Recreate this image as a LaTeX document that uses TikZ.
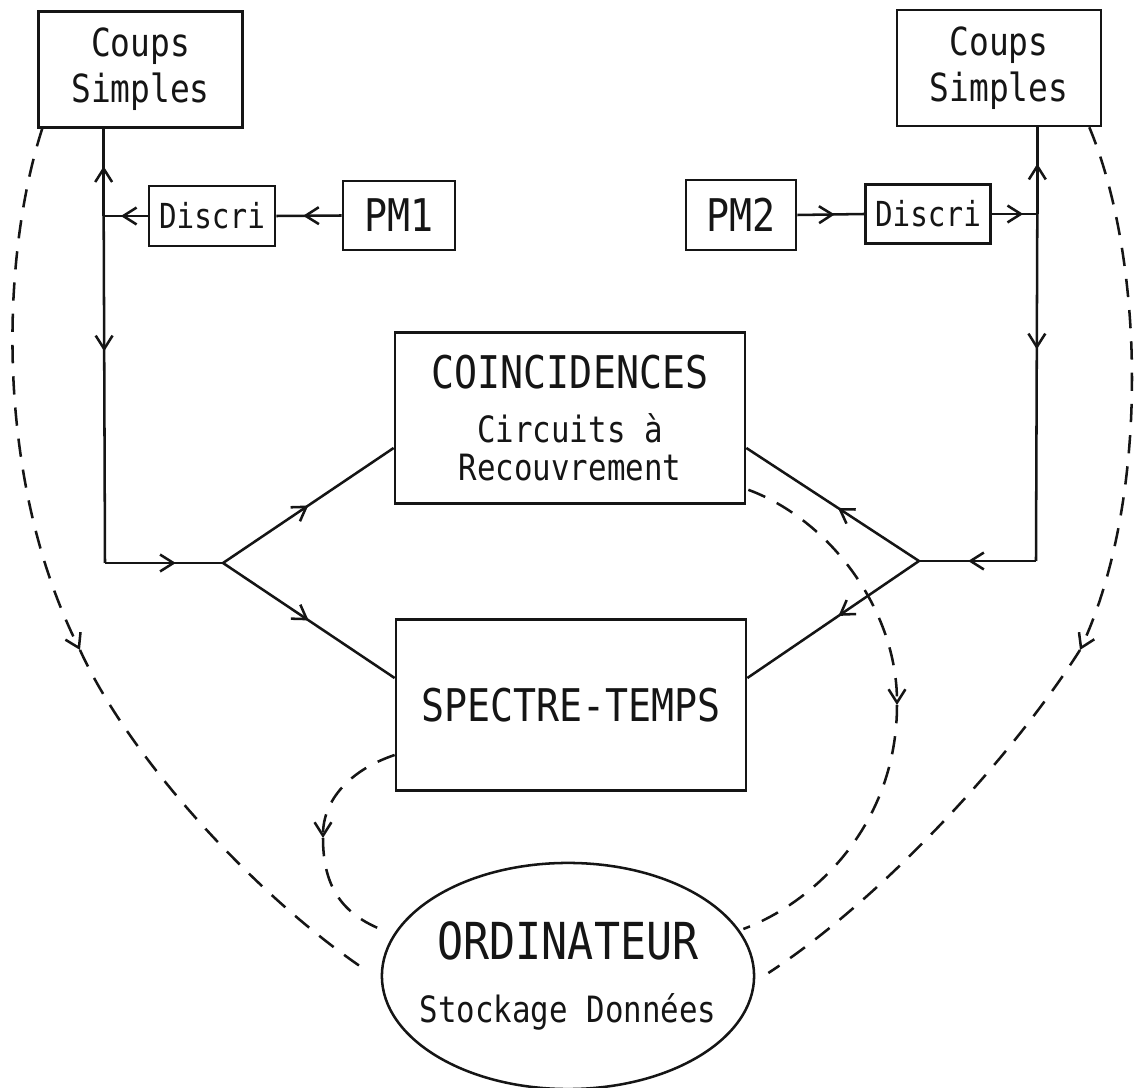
\documentclass[tikz,border=0pt]{standalone}
\usepackage{fontspec}
\usepackage{tikz}
\usetikzlibrary{shapes.geometric, arrows.meta, calc, decorations.markings}
\newfontfamily\traceur[FakeStretch=0.85]{DejaVu Sans Mono}
\definecolor{encre}{HTML}{151515}
\newcommand\fcoups{\traceur\fontsize{11}{13.1}\selectfont}
\newcommand\fdiscri{\traceur\fontsize{9.8}{11}\selectfont}
\newcommand\fpm{\traceur\fontsize{12.8}{15}\selectfont}
\newcommand\fgrand{\traceur\fontsize{12.8}{15}\selectfont}
\newcommand\fpetit{\traceur\fontsize{10.3}{10.9}\selectfont}
\newcommand\fordi{\traceur\fontsize{14.5}{16}\selectfont}

\begin{document}
\begin{tikzpicture}[x=0.01cm, y=-0.01cm, line width=0.72pt, encre,
        bloc/.style={draw, rectangle, inner sep=0pt, align=center},
        fleche/.style={postaction={decorate}, decoration={markings,
            mark=at position #1 with {\arrow{Straight Barb[length=3.8pt,width=4.8pt]}}}},
        pointe/.style={-{Straight Barb[length=3.8pt,width=4.8pt]}},
        tiret/.style={dash pattern=on 5.2pt off 3.7pt}]
        \useasboundingbox (0,0) rectangle (1135,1088);
        \node[bloc, minimum width=2.04cm, minimum height=1.16cm, font=\fcoups] (cs1) at (140.5,69.5) {Coups\\Simples};
        \node[bloc, minimum width=2.04cm, minimum height=1.16cm, font=\fcoups] (cs2) at (999,68) {Coups\\Simples};
        \node[bloc, minimum width=1.26cm, minimum height=0.60cm, font=\fdiscri] (d1) at (212,216) {Discri};
        \node[bloc, minimum width=1.12cm, minimum height=0.69cm, font=\fpm] (pm1) at (399,215.5) {PM1};
        \node[bloc, minimum width=1.10cm, minimum height=0.70cm, font=\fpm] (pm2) at (741,215) {PM2};
        \node[bloc, minimum width=1.25cm, minimum height=0.59cm, font=\fdiscri] (d2) at (928,214) {Discri};
        \node[bloc, minimum width=3.50cm, minimum height=1.71cm, font=\fpetit] (co) at (570,418) {{\fgrand COINCIDENCES}\\[4.5pt]Circuits à\\Recouvrement};
        \node[bloc, minimum width=3.50cm, minimum height=1.71cm, font=\fgrand] (sp) at (571,705) {SPECTRE-TEMPS};
        \node[draw, ellipse, inner xsep=-0.4cm, inner ysep=0pt, minimum width=3.72cm, minimum height=2.26cm, align=center, font=\fpetit] (or) at (568,976) {{\fordi ORDINATEUR}\\[7pt]Stockage Données};
        % voie 1
        \coordinate (h1) at ($(cs1.south west)+(66.5,0)$);
        \coordinate (j1) at (h1 |- d1.west);
        \coordinate (k1) at (105,563);
        \coordinate (f1) at (223,563);
        \draw[fleche=0.59] (pm1.west) -- (d1.east);
        \draw[fleche=0.61] (d1.west) -- (j1);
        \draw[fleche=0.57] (j1) -- (h1);
        \draw[fleche=0.39] (j1) -- (k1);
        \draw[fleche=0.6] (k1) -- (f1);
        \foreach \b/\dy in {co/30, sp/-27} \draw[fleche=0.5] (f1) -- ($(\b.west)+(0,\dy)$);
        % voie 2
        \coordinate (h2) at ($(cs2.south east)+(-65,0)$);
        \coordinate (j2) at (h2 |- d2.east);
        \coordinate (k2) at (1036,561);
        \coordinate (f2) at (919,561);
        \draw[fleche=0.56] (pm2.east) -- (d2.west);
        \draw[fleche=0.69] (d2.east) -- (j2);
        \draw[fleche=0.58] (j2) -- (h2);
        \draw[fleche=0.39] (j2) -- (k2);
        \draw[fleche=0.58] (k2) -- (f2);
        \foreach \b/\dy in {co/30, sp/-27} \draw[fleche=0.47] (f2) -- ($(\b.east)+(0,\dy)$);
        % vers l'ordinateur
        \coordinate (a1) at (80,650);
        \coordinate (a2) at (323,838);
        \coordinate (a3) at (897,705);
        \coordinate (a4) at (1080,650);
        \draw[tiret, pointe] ($(cs1.south west)+(5,0)$) .. controls (0,260) and (-5,480) .. (a1);
        \draw[tiret] (a1) .. controls (130,760) and (260,900) .. ($(or.west)+(-12,-4)$);
        \draw[tiret, pointe] ($(sp.west)+(0,50)$) .. controls (350,770) and (323,800) .. (a2);
        \draw[tiret] (a2) .. controls (323,890) and (345,915) .. ($(or.west)+(2,-46)$);
        \draw[tiret, pointe] ($(co.south east)+(2,-15)$) .. controls (830,520) and (897,610) .. (a3);
        \draw[tiret] (a3) .. controls (897,820) and (820,900) .. ($(or.east)+(-12,-47)$);
        \draw[tiret, pointe] ($(cs2.south east)+(-13,0)$) .. controls (1145,260) and (1150,500) .. (a4);
        \draw[tiret] (a4) .. controls (1010,760) and (880,900) .. ($(or.east)+(13,-3)$);
    \end{tikzpicture}
\end{document}
